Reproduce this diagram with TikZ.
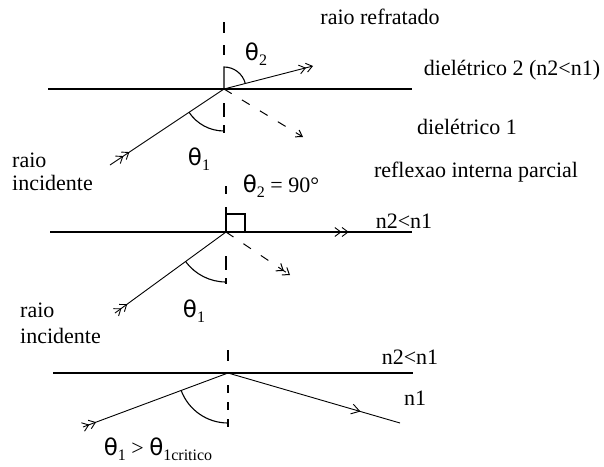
\documentclass[tikz,border=0pt]{standalone}
\usepackage{fontspec}
\setmainfont{Liberation Serif}
\newfontfamily\thfont{DejaVu Sans}
\usetikzlibrary{arrows.meta,decorations.markings}
\newcommand{\tht}[1]{{\thfont\fontsize{23}{24}\selectfont θ}\raisebox{-5pt}{\fontsize{16}{16}\selectfont #1}}
\begin{document}
\begin{tikzpicture}[x=1pt,y=-1pt,
  lbl/.style={inner sep=0pt, font=\fontsize{22}{26}\selectfont},
  surf/.style={line width=1.3pt},
  ray/.style={line width=0.9pt},
  normal/.style={line width=1.1pt},
  anglemark/.style={line width=1.1pt},
  refl/.style={line width=1pt, dash pattern=on 9pt off 12pt},
  barb/.style={-{Straight Barb[length=6pt,width=8pt]}},
  dbarb/.style={-{Straight Barb[length=6pt,width=9pt] Straight Barb[length=6pt,width=9pt]}},
  feather/.style={postaction={decorate},decoration={markings,
     mark=at position #1 with {\arrow{Straight Barb[length=6pt,width=9pt] Straight Barb[length=6pt,width=9pt]}}}},
  single/.style={postaction={decorate},decoration={markings,
     mark=at position #1 with {\arrow{Straight Barb[length=8pt,width=10pt]}}}},
]
\useasboundingbox (0,0) rectangle (604,466);

% ---------- panel 1 ----------
\coordinate (P1) at (224,89);
\coordinate (I1) at (110,165);
\coordinate (R1) at (313,66);
\coordinate (F1) at (303,137);
\draw[surf] (48,89) -- (412,89);
\foreach \a/\b in {22/33,45/55,103/117,125/133} \draw[normal] (224,\a) -- (224,\b);
\draw[anglemark] (P1) -- ++(0,-22) arc[start angle=-90,end angle=-15,radius=22];
\draw[ray,dbarb] (P1) -- (R1);
\draw[ray,feather=0.17] (I1) -- (P1);
\draw[anglemark] (P1) ++(146.3:42) arc[start angle=146.3,end angle=90,radius=42];
\draw[refl,barb] (P1) -- (F1);

\node[lbl] (t1) at (380,17) {raio refratado};
\node[lbl] (t2) at (512,70) {dielétrico 2 (n2<n1)};
\node[lbl] (t3) at (467,127) {dielétrico 1};
\node[lbl] (th2a) at (256,54) {\tht{2}};
\node[lbl] (th1a) at (199,159) {\tht{1}};
\node[lbl,anchor=west] (ra1) at (12,160) {raio};
\node[lbl,anchor=west] (in1) at (12,183) {incidente};

% ---------- panel 2 ----------
\coordinate (P2) at (226,232);
\coordinate (I2) at (115,313);
\coordinate (F2) at (290,275);
\coordinate (E2) at (412,232);
\draw[surf] (50,232) -- (E2);
\draw[ray,feather=0.66] (P2) -- (E2);
\draw[anglemark] (P2) rectangle ++(19,-18);
\foreach \a/\b in {186/194,207/232,256/270,278/284} \draw[normal] (226,\a) -- (226,\b);
\draw[ray,feather=0.11] (I2) -- (P2);
\draw[anglemark] (P2) ++(143.9:50) arc[start angle=143.9,end angle=90,radius=50];
\draw[refl,dbarb] (P2) -- (F2);

\node[lbl] (t4) at (476,172) {reflexao interna parcial};
\node[lbl] (th2b) at (281,186) {\tht{2} = 90°};
\node[lbl] (t5) at (404,221) {n2<n1};
\node[lbl] (th1b) at (194,311) {\tht{1}};
\node[lbl,anchor=west] (ra2) at (20,310) {raio};
\node[lbl,anchor=west] (in2) at (20,336) {incidente};

% ---------- panel 3 ----------
\coordinate (P3) at (228,373);
\coordinate (I3) at (83,427);
\coordinate (F3) at (400,423);
\draw[surf] (53,373) -- (413,373);
\foreach \a/\b in {350/361,385/393,402/410,419/427} \draw[normal] (228,\a) -- (228,\b);
\draw[ray,feather=0.09] (I3) -- (P3);
\draw[anglemark] (P3) ++(159.6:50) arc[start angle=159.6,end angle=90,radius=50];
\draw[ray,single=0.77] (P3) -- (F3);

\node[lbl] (t6) at (410,357) {n2<n1};
\node[lbl] (t7) at (415,398) {n1};
\node[lbl] (t8) at (158,449) {\tht{1} > \tht{1critico}};
\end{tikzpicture}
\end{document}
